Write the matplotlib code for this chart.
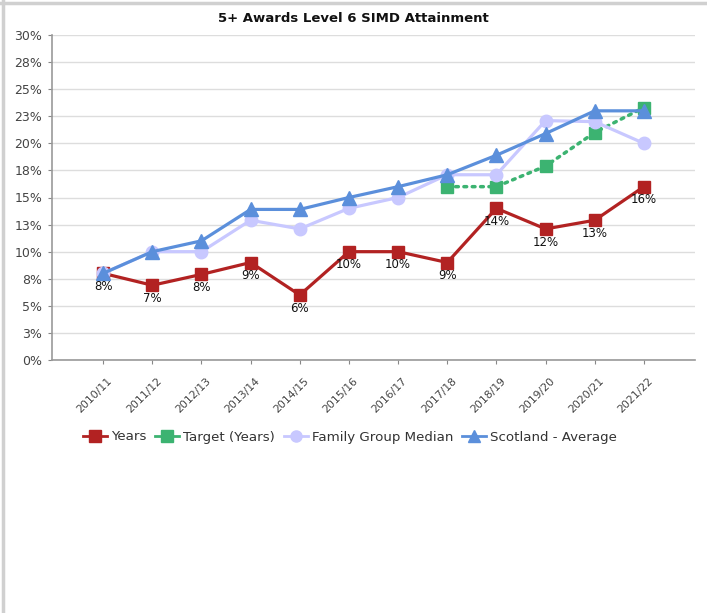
import matplotlib
matplotlib.use("Agg")
import matplotlib.pyplot as plt
from matplotlib.lines import Line2D
from matplotlib.transforms import ScaledTranslation

years = ["2010/11", "2011/12", "2012/13", "2013/14", "2014/15", "2015/16",
         "2016/17", "2017/18", "2018/19", "2019/20", "2020/21", "2021/22"]
years_vals = [8.0, 6.9, 7.9, 9.0, 6.0, 10.0, 10.0, 9.0, 14.0, 12.1, 12.9, 16.0]
target_vals = [None, None, None, None, None, None, None, 16.0, 16.0, 17.9, 21.0, 23.3]
family_vals = [8.0, 10.0, 10.0, 12.9, 12.1, 14.0, 15.0, 17.1, 17.1, 22.1, 22.0, 20.0]
scotland_vals = [8.0, 10.0, 11.0, 13.9, 13.9, 15.0, 16.0, 17.1, 18.9, 20.9, 23.0, 23.0]
y_ticks = [0, 2.5, 5, 7.5, 10, 12.5, 15, 17.5, 20, 22.5, 25, 27.5, 30]
y_tick_labels = ["0%", "3%", "5%", "8%", "10%", "13%", "15%", "18%",
                 "20%", "23%", "25%", "28%", "30%"]

RED = "#b22222"
GREEN = "#3cb371"
LILAC = "#c8c8ff"
BLUE = "#5b8fdb"

fig = plt.figure(figsize=(7.07, 6.13), dpi=100)
ax = fig.add_axes([52 / 707, 1 - 360 / 613, 643 / 707, 325 / 613])

x = list(range(len(years)))

ax.plot(x, years_vals, color=RED, lw=2.3, marker="s", ms=9, zorder=3)
tx = [i for i, v in zip(x, target_vals) if v is not None]
tv = [v for v in target_vals if v is not None]
ax.plot(tx, tv, color=GREEN, lw=2.5, linestyle=(0, (0.8, 1.6)),
        dash_capstyle="round", marker="s", ms=9, zorder=4)
ax.plot(x, family_vals, color=LILAC, lw=2.3, marker="o", ms=9, zorder=5)
ax.plot(x, scotland_vals, color=BLUE, lw=2.3, marker="^", ms=9.5, zorder=6)

# data labels under the red series
for i, v in zip(x, years_vals):
    ax.annotate(f"{int(v + 0.5)}%", (i, v), xytext=(0, -9.5),
                textcoords="offset points", ha="center", va="center",
                fontsize=8.5, color="#111111", zorder=7)

ax.set_xlim(-1.04, 11 + 1.04)
ax.set_ylim(0, 30)
ax.set_yticks(y_ticks)
ax.set_yticklabels(y_tick_labels, fontsize=9, color="#444444")
ax.set_xticks(x)
ax.set_xticklabels([])
ax.tick_params(axis="both", length=3, color="#888888", pad=4)

# rotated category labels, placed by hand relative to each tick
shift = ScaledTranslation(4 / 100, -16 / 100, fig.dpi_scale_trans)
for i, lab in zip(x, years):
    ax.text(i, 0, lab, transform=ax.get_xaxis_transform() + shift,
            rotation=45, ha="right", va="top", rotation_mode="anchor",
            fontsize=7.8, color="#444444")

ax.grid(axis="y", color="#dddddd", lw=1)
ax.set_axisbelow(True)
for side in ["top", "right"]:
    ax.spines[side].set_visible(False)
for side in ["left", "bottom"]:
    ax.spines[side].set_color("#999999")
    ax.spines[side].set_linewidth(1.2)

fig.text(353 / 707, 1 - 18 / 613, "5+ Awards Level 6 SIMD Attainment",
         ha="center", va="center", fontsize=9.5, fontweight="bold", color="#111111")

handles = [
    Line2D([], [], color=RED, lw=2, marker="s", ms=8),
    Line2D([], [], color=GREEN, lw=2, marker="s", ms=8),
    Line2D([], [], color=LILAC, lw=2, marker="o", ms=8),
    Line2D([], [], color=BLUE, lw=2, marker="^", ms=8),
]
fig.legend(handles, ["Years", "Target (Years)", "Family Group Median", "Scotland - Average"],
           loc="center", bbox_to_anchor=(350 / 707, 1 - 437 / 613), ncol=4,
           frameon=False, fontsize=9.6, handlelength=1.8, handletextpad=0.3,
           columnspacing=0.65, labelcolor="#333333")

# screenshot frame edges
fig.add_artist(Line2D([0, 1], [1 - 3 / 613, 1 - 3 / 613], transform=fig.transFigure,
                      color="#d0d0d0", lw=2.5))
fig.add_artist(Line2D([3 / 707, 3 / 707], [0, 1], transform=fig.transFigure,
                      color="#d0d0d0", lw=2.5))

fig.savefig("out.png", dpi=100, facecolor="white")
